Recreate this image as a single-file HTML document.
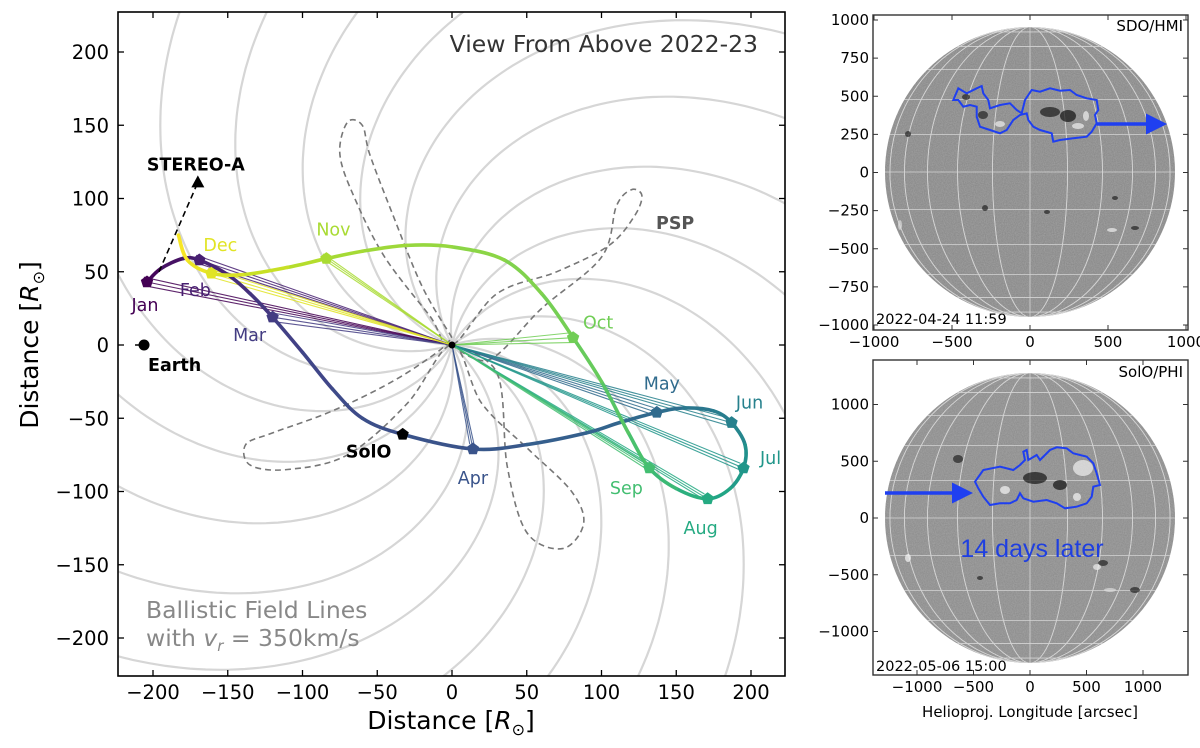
<!DOCTYPE html>
<html><head><meta charset="utf-8">
<style>
html,body{margin:0;padding:0;background:#fff;width:1200px;height:748px;overflow:hidden;}
svg{display:block;font-family:"DejaVu Sans","Liberation Sans",sans-serif;}
</style></head>
<body>
<svg id="fig" width="1200" height="748" viewBox="0 0 1200 748" xmlns="http://www.w3.org/2000/svg">
<defs>
  <clipPath id="mainclip"><rect x="118" y="12" width="667" height="664"/></clipPath>
  <clipPath id="disc1"><circle cx="1030" cy="172" r="145"/></clipPath>
  <clipPath id="disc2"><circle cx="1030" cy="518" r="145"/></clipPath>
  <filter id="noise" x="0" y="0" width="100%" height="100%">
    <feTurbulence type="fractalNoise" baseFrequency="0.9" numOctaves="2" seed="3"/>
    <feColorMatrix type="matrix" values="0 0 0 0 0  0 0 0 0 0  0 0 0 0 0  0.9 0 0 0 -0.1"/>
  </filter>
  <marker id="ah" markerWidth="6" markerHeight="6" refX="4" refY="3" orient="auto" markerUnits="strokeWidth">
    <path d="M0,0 L6,3 L0,6 z" fill="#1f3ff0"/>
  </marker>
</defs>
<g id="main">
  <g id="fieldlines" clip-path="url(#mainclip)"></g>
  <g id="psp" clip-path="url(#mainclip)"></g>
  <g id="connectors"></g>
  <g id="traj"></g>
  <g id="markers"></g>
  <g id="mlabels" font-size="17.5"></g>
  <g id="axes"></g>
  <text x="758" y="52" font-size="23.5" fill="#333" text-anchor="end">View From Above 2022-23</text>
  <text x="146" y="618" font-size="23.5" fill="#888">Ballistic Field Lines</text>
  <text x="146" y="646" font-size="23.5" fill="#888">with <tspan font-style="italic">v</tspan><tspan font-style="italic" font-size="15" dy="5">r</tspan><tspan dy="-5"> = 350km/s</tspan></text>
  <text x="451" y="729" font-size="25" text-anchor="middle" fill="#000">Distance [<tspan font-style="italic">R</tspan><tspan font-size="16" dy="6">⊙</tspan><tspan dy="-6">]</tspan></text>
  <text transform="translate(38,345) rotate(-90)" font-size="25" text-anchor="middle" fill="#000">Distance [<tspan font-style="italic">R</tspan><tspan font-size="16" dy="6">⊙</tspan><tspan dy="-6">]</tspan></text>
</g>

<g id="panel1">
  <circle cx="1030" cy="172" r="145" fill="#a0a0a0"/>
  <rect x="885" y="27" width="290" height="290" fill="#000" filter="url(#noise)" clip-path="url(#disc1)" opacity="0.22"/>
  <g id="grid1" clip-path="url(#disc1)" stroke="#d4d4d4" stroke-width="0.8" fill="none"></g>
  <g id="blobs1" clip-path="url(#disc1)"></g>
  <path id="contour1" fill="none" stroke="#1f3ff0" stroke-width="2"/>
  <line x1="1097" y1="124" x2="1160" y2="124" stroke="#1f3ff0" stroke-width="3.5" marker-end="url(#ah)"/>
  <g id="axes1"></g>
  <text x="1183" y="31" font-size="15" text-anchor="end">SDO/HMI</text>
  <text x="876" y="324" font-size="14.5">2022-04-24 11:59</text>
</g>

<g id="panel2">
  <circle cx="1030" cy="518" r="145" fill="#a2a2a2"/>
  <rect x="885" y="373" width="290" height="290" fill="#000" filter="url(#noise)" clip-path="url(#disc2)" opacity="0.2"/>
  <g id="grid2" clip-path="url(#disc2)" stroke="#d4d4d4" stroke-width="0.8" fill="none"></g>
  <g id="blobs2" clip-path="url(#disc2)"></g>
  <path id="contour2" fill="none" stroke="#1f3ff0" stroke-width="2"/>
  <line x1="885" y1="493" x2="966" y2="493" stroke="#1f3ff0" stroke-width="3.5" marker-end="url(#ah)"/>
  <text x="1032" y="557" font-size="25" fill="#1f3fe0" text-anchor="middle" font-family="Liberation Sans, sans-serif">14 days later</text>
  <g id="axes2"></g>
  <text x="1183" y="377" font-size="15" text-anchor="end">SolO/PHI</text>
  <text x="876" y="671" font-size="14.5">2022-05-06 15:00</text>
  <text x="1030" y="717" font-size="15" text-anchor="middle">Helioproj. Longitude [arcsec]</text>
</g>
</svg>

<script>
const monthNames = ["Jan","Feb","Mar","Apr","May","Jun","Jul","Aug","Sep","Oct","Nov","Dec"];
const monthX = [-204,-169,-120,14,137,187,195,171,132,81,-84,-161];
const monthY = [43,58,19,-71,-46,-53,-84,-105,-84,5,59,49];
const pathT = [0,0.4,0.7,1,1.4,1.7,2,2.3,2.5,2.7,2.85,3,3.3,3.6,3.8,4,4.4,4.7,5,5.5,6,6.5,7,7.5,8,8.3,8.6,9,9.2,9.4,9.6,9.75,9.88,10,10.4,10.7,11,11.3,11.5];
const pathX = [-204,-195,-180,-169,-150,-135,-120,-100,-80,-60,-33,14,50,90,112,137,155,175,187,196,195,186,171,150,132,118,100,81,60,35,0,-30,-60,-84,-110,-140,-161,-177,-183];
const pathY = [43,52,59,58,48,35,19,-5,-30,-50,-61,-71,-68,-60,-53,-46,-43,-45,-53,-68,-84,-98,-105,-98,-84,-60,-25,5,35,58,67,68,64,59,53,48,49,58,75];
const soloPos = [-33,-61];
const earthPos = [-206,0];
const stereoPos = [-170,111];
const pspX = [0,-20,-40,-55,-60,-70,-75,-65,-45,-15,0, 30,70,105,122,127,120,110,100,60,25,0, 30,37,50,74,88,80,52,20,0, -30,-70,-110,-135,-138,-120,-80,-40,-10,0];
const pspY = [5,40,90,130,150,152,130,100,60,20,0, 35,50,68,88,102,106,95,60,25,-10,0, -19,-83,-128,-139,-122,-100,-72,-40,0, -40,-75,-85,-82,-68,-60,-45,-25,-5,5];
const xTicks = [-200,-150,-100,-50,0,50,100,150,200];
const yTicks = [-200,-150,-100,-50,0,50,100,150,200];
const hmiYTicks = [1000,750,500,250,0,-250,-500,-750,-1000];
const hmiXTicks = [-1000,-500,0,500,1000];
const phiYTicks = [1000,500,0,-500,-1000];
const phiXTicks = [-1000,-500,0,500,1000];

const NS = "http://www.w3.org/2000/svg";
function mk(tag, attrs, parent){const e=document.createElementNS(NS,tag);for(const k in attrs)e.setAttribute(k,attrs[k]);if(parent)parent.appendChild(e);return e;}
const X = d => 452 + d*1.495;
const Y = d => 345 - d*1.465;

const vir = ["#440154","#482475","#414487","#355f8d","#2a788e","#21918c","#22a884","#44bf70","#7ad151","#bddf26","#fde725"];
function hex2(c){return [1,3,5].map(i=>parseInt(c.substr(i,2),16));}
function viridis(f){f=Math.max(0,Math.min(1,f));const p=f*10,i=Math.min(9,Math.floor(p)),r=p-i;const a=hex2(vir[i]),b=hex2(vir[i+1]);return "rgb("+a.map((v,k)=>Math.round(v+(b[k]-v)*r)).join(",")+")";}
const tMax = 11.5;

function smooth(pts){
  let d="M"+pts[0][0].toFixed(1)+","+pts[0][1].toFixed(1);
  for(let i=0;i<pts.length-1;i++){
    const p0=pts[Math.max(0,i-1)],p1=pts[i],p2=pts[i+1],p3=pts[Math.min(pts.length-1,i+2)];
    const c1=[p1[0]+(p2[0]-p0[0])/6,p1[1]+(p2[1]-p0[1])/6];
    const c2=[p2[0]-(p3[0]-p1[0])/6,p2[1]-(p3[1]-p1[1])/6];
    d+="C"+c1.map(v=>v.toFixed(1)).join(",")+" "+c2.map(v=>v.toFixed(1)).join(",")+" "+p2[0].toFixed(1)+","+p2[1].toFixed(1);
  }
  return d;
}

(function(){
  const fl = document.getElementById("fieldlines");
  const nLines = 18, kWind = 0.0053, phase = 0.30;
  for(let i=0;i<nLines;i++){
    const phi0 = phase + i*2*Math.PI/nLines;
    let d="";
    for(let r=0;r<=340;r+=3){
      const ph = phi0 - kWind*r;
      d += (r===0?"M":"L")+X(r*Math.cos(ph)).toFixed(1)+","+Y(r*Math.sin(ph)).toFixed(1);
    }
    const p = mk("path",{d:d,fill:"none",stroke:"#d6d6d6","stroke-width":2.2},fl);
    
    
  }
})();

(function(){
  const g=document.getElementById("psp");
  const pts=pspX.map((x,i)=>[X(x),Y(pspY[i])]);
  const p=mk("path",{d:smooth(pts),fill:"none",stroke:"#777","stroke-width":1.6,"stroke-dasharray":"6,4"},g);
  
  
})();

(function(){
  const g=document.getElementById("connectors");
  monthX.forEach((mx,i)=>{
    [-0.08,0,0.08].forEach(off=>{
      const l=mk("line",{x1:X(0),y1:Y(0),x2:X(mx)+off*40,y2:Y(monthY[i])+off*60,stroke:viridis(i/tMax),"stroke-width":1.1,opacity:0.85},g);
      
      
    });
  });
})();

(function(){
  const g=document.getElementById("traj");
  const pts=pathX.map((x,i)=>[X(x),Y(pathY[i])]);
  for(let i=0;i<pts.length-1;i++){
    const p0=pts[Math.max(0,i-1)],p1=pts[i],p2=pts[i+1],p3=pts[Math.min(pts.length-1,i+2)];
    const c1=[p1[0]+(p2[0]-p0[0])/6,p1[1]+(p2[1]-p0[1])/6];
    const c2=[p2[0]-(p3[0]-p1[0])/6,p2[1]-(p3[1]-p1[1])/6];
    const d="M"+p1[0]+","+p1[1]+"C"+c1.join(",")+" "+c2.join(",")+" "+p2[0]+","+p2[1];
    const s=mk("path",{d:d,fill:"none",stroke:viridis(((pathT[i]+pathT[i+1])/2)/tMax),"stroke-width":3.6,"stroke-linecap":"round"},g);
    
    
  }
})();

function pent(cx,cy,r){let s="";for(let k=0;k<5;k++){const a=-Math.PI/2+k*2*Math.PI/5;s+=(cx+r*Math.cos(a)).toFixed(1)+","+(cy+r*Math.sin(a)).toFixed(1)+" ";}return s;}

(function(){
  const g=document.getElementById("markers"), lg=document.getElementById("mlabels");
  const lpAdj=[[-2,29],[-4,36],[-23,24],[0,35],[5,-23],[18,-14],[27,-4],[-7,35],[-23,26],[25,-9],[7,-23],[9,-22]];
  monthX.forEach((mx,i)=>{
    const cx=X(mx), cy=Y(monthY[i]), col=viridis(i/tMax);
    const m=mk("polygon",{points:pent(cx,cy,6.5),fill:col},g);
    
    
    const t=mk("text",{x:cx+lpAdj[i][0],y:cy+lpAdj[i][1],fill:col,"text-anchor":"middle"},lg);
    t.textContent=monthNames[i];
    
    
  });
  const so=mk("polygon",{points:pent(X(soloPos[0]),Y(soloPos[1]),6.5),fill:"#000"},g);
  
  
  const st=mk("text",{x:X(soloPos[0])-34,y:Y(soloPos[1])+23,"font-weight":"bold","font-size":"17.5","text-anchor":"middle"},lg);
  st.textContent="SolO";
  
  
  const el=mk("line",{x1:X(earthPos[0])-9,y1:Y(earthPos[1]),x2:X(earthPos[0]),y2:Y(earthPos[1]),stroke:"#000","stroke-width":1.5},g);
  
  
  const ec=mk("circle",{cx:X(earthPos[0]),cy:Y(earthPos[1]),r:5.5,fill:"#000"},g);
  
  
  const et=mk("text",{x:X(earthPos[0])+4,y:Y(earthPos[1])+26,"font-weight":"bold","font-size":"17.5"},lg);
  et.textContent="Earth";
  
  
  const sl=mk("line",{x1:X(-196),y1:Y(50),x2:X(stereoPos[0]),y2:Y(stereoPos[1]),stroke:"#000","stroke-width":1.6,"stroke-dasharray":"6,4"},g);
  
  
  const sx=X(stereoPos[0]), sy=Y(stereoPos[1]);
  const tri=mk("polygon",{points:(sx)+","+(sy-7)+" "+(sx-6.5)+","+(sy+5)+" "+(sx+6.5)+","+(sy+5),fill:"#000"},g);
  
  
  const stt=mk("text",{x:sx-2,y:sy-12,"font-weight":"bold","font-size":"17.5","text-anchor":"middle"},lg);
  stt.textContent="STEREO-A";
  
  
  const pt=mk("text",{x:656,y:229,"font-weight":"bold","font-size":"17.5",fill:"#555"},lg);
  pt.textContent="PSP";
  
  
  const sun=mk("circle",{cx:X(0),cy:Y(0),r:3.5,fill:"#000"},g);
  
  
})();

(function(){
  const g=document.getElementById("axes");
  const fr=mk("rect",{x:118,y:12,width:667,height:664,fill:"none",stroke:"#000","stroke-width":1.6},g);
  
  
  xTicks.forEach(v=>{
    const x=X(v);
    mk("line",{x1:x,y1:676,x2:x,y2:670,stroke:"#000","stroke-width":1.3},g);
    mk("line",{x1:x,y1:12,x2:x,y2:18,stroke:"#000","stroke-width":1.3},g);
    const t=mk("text",{x:x,y:699,"font-size":"19.5","text-anchor":"middle"},g);
    t.textContent=(v<0?"−"+(-v):""+v);
    
    
  });
  yTicks.forEach(v=>{
    const y=Y(v);
    mk("line",{x1:118,y1:y,x2:124,y2:y,stroke:"#000","stroke-width":1.3},g);
    mk("line",{x1:785,y1:y,x2:779,y2:y,stroke:"#000","stroke-width":1.3},g);
    const t=mk("text",{x:109,y:y+7,"font-size":"19.5","text-anchor":"end"},g);
    t.textContent=(v<0?"−"+(-v):""+v);
    
    
  });
})();

function panel(axId,gridId,box,cx,cy,R,xT,yT,xs,ys,y0){
  const g=document.getElementById(axId), gr=document.getElementById(gridId);
  for(let lat=-75;lat<=75;lat+=15){
    const yy=cy-R*Math.sin(lat*Math.PI/180), hw=R*Math.cos(lat*Math.PI/180);
    mk("line",{x1:cx-hw,y1:yy,x2:cx+hw,y2:yy},gr);
  }
  for(let lon=-75;lon<=75;lon+=15){
    mk("ellipse",{cx:cx,cy:cy,rx:Math.abs(R*Math.sin(lon*Math.PI/180))+0.01,ry:R},gr);
  }
  mk("rect",{x:box[0],y:box[1],width:box[2]-box[0],height:box[3]-box[1],fill:"none",stroke:"#333","stroke-width":1.4},g);
  xT.forEach(v=>{const x=cx+v*xs;
    mk("line",{x1:x,y1:box[3],x2:x,y2:box[3]-5,stroke:"#333"},g);
    mk("line",{x1:x,y1:box[1],x2:x,y2:box[1]+5,stroke:"#333"},g);
    const t=mk("text",{x:x,y:box[3]+17,"font-size":"15","text-anchor":"middle"},g);
    t.textContent=(v<0?"−"+(-v):""+v);
    
    
  });
  yT.forEach(v=>{const y=y0-v*ys;
    mk("line",{x1:box[0],y1:y,x2:box[0]+5,y2:y,stroke:"#333"},g);
    mk("line",{x1:box[2],y1:y,x2:box[2]-5,y2:y,stroke:"#333"},g);
    const t=mk("text",{x:box[0]-4,y:y+5,"font-size":"15","text-anchor":"end"},g);
    t.textContent=(v<0?"−"+(-v):""+v);
    
    
  });
}
panel("axes1","grid1",[873,15,1188,330],1030,172,145,hmiXTicks,hmiYTicks,0.156,0.1525,172.5);
panel("axes2","grid2",[873,360,1188,675],1030,518,145,phiXTicks,phiYTicks,0.113,0.1135,518);

function contour(id,pts,ox,oy){
  let d="";pts.forEach((p,i)=>{d+=(i?"L":"M")+(p[0]/3+ox).toFixed(1)+","+(p[1]/3+oy).toFixed(1);});
  document.getElementById(id).setAttribute("d",d+"Z");
}
contour("contour1",[[400,300],[415,265],[440,280],[470,265],[485,258],[490,280],[505,300],[510,325],[540,315],[570,310],[590,330],[605,340],[615,300],[635,270],[660,275],[690,265],[720,272],[750,270],[770,285],[800,295],[830,300],[835,330],[825,345],[830,370],[815,395],[800,410],[760,415],[720,420],[700,425],[695,400],[660,390],[640,380],[625,360],[620,340],[600,345],[580,360],[560,390],[540,400],[510,390],[480,380],[470,350],[470,320],[450,315],[430,320],[415,300]],820,0);
contour("contour2",[[465,395],[490,360],[540,350],[580,360],[600,345],[615,330],[610,305],[620,300],[625,330],[650,315],[660,330],[690,300],[710,292],[740,295],[760,310],[800,320],[820,340],[830,370],[840,405],[820,410],[815,440],[800,460],[770,470],[735,475],[710,460],[680,450],[640,455],[610,445],[600,430],[590,450],[570,460],[540,460],[510,465],[490,440],[475,415]],820,350);

function blobs(id,list){
  const g=document.getElementById(id);
  list.forEach(b=>{const e=mk("ellipse",{cx:b[0],cy:b[1],rx:b[2],ry:b[3],fill:b[4],opacity:0.7},g);
    
    });
}
blobs("blobs1",[[1050,112,10,5,"#1a1a1a"],[1068,116,8,6,"#111"],[1078,126,6,3,"#eee"],[1000,124,5,3,"#eee"],[966,97,4,3,"#222"],[983,115,5,4,"#222"],[1086,116,3,5,"#f0f0f0"],[908,134,3,3,"#222"],[985,208,3,3,"#222"],[1047,212,3,2,"#222"],[1115,198,3,2,"#222"],[1135,228,4,2,"#222"],[1112,230,5,2,"#eee"],[900,225,2,5,"#ddd"]]);
blobs("blobs2",[[1035,478,12,6,"#151515"],[1060,485,7,5,"#111"],[1083,468,10,8,"#f0f0f0"],[1005,490,5,4,"#f5f5f5"],[1077,497,4,4,"#f5f5f5"],[958,459,5,4,"#222"],[908,558,3,4,"#f5f5f5"],[1103,563,5,3,"#222"],[1097,567,4,3,"#eee"],[1135,590,5,3,"#222"],[1110,590,6,2,"#ddd"],[980,578,3,2,"#222"]]);
</script>
</body></html>
